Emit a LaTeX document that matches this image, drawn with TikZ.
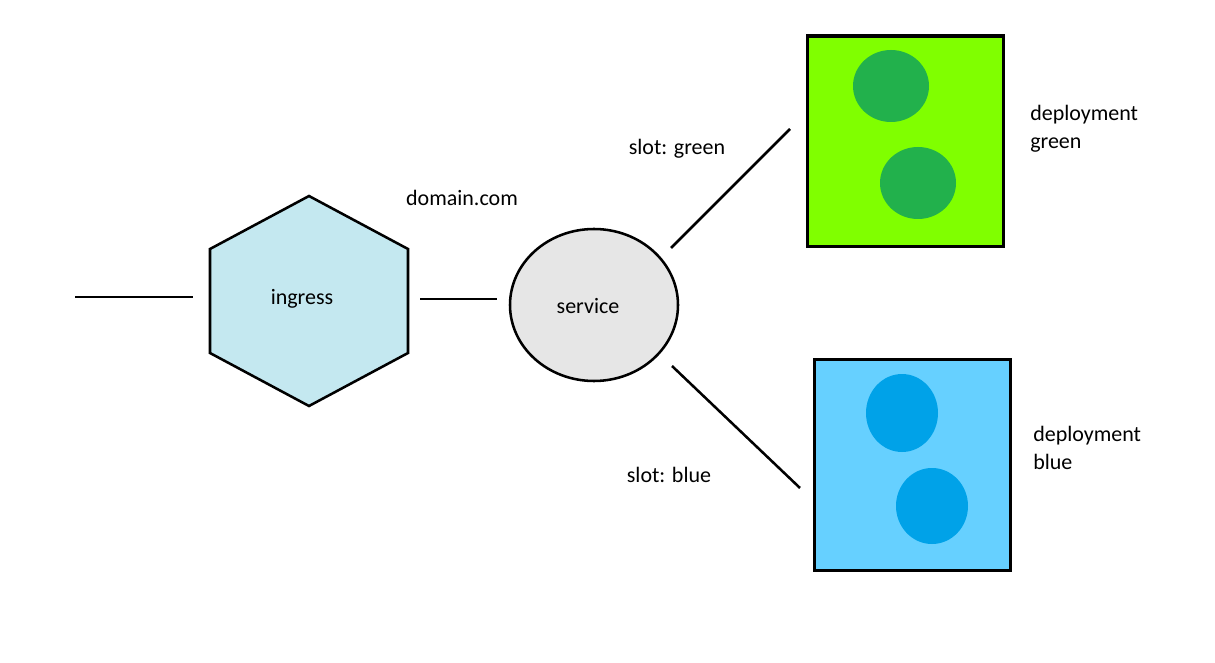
\documentclass[tikz,border=0pt]{standalone}
\usepackage{fontspec}
\setmainfont{Carlito}
\usetikzlibrary{shapes.geometric,calc}
\definecolor{hexfill}{HTML}{C4E8F0}
\definecolor{svcfill}{HTML}{E6E6E6}
\definecolor{gbox}{HTML}{80FF00}
\definecolor{gdot}{HTML}{22B14C}
\definecolor{bbox}{HTML}{66D0FF}
\definecolor{bdot}{HTML}{00A2E8}
\tikzset{
  conn/.style={line width=1.9pt},
  lbl/.style={font=\fontsize{16.5pt}{21pt}\selectfont, inner sep=0pt},
  depbox/.style={draw, line width=2.5pt, minimum width=147pt, minimum height=158pt, inner sep=0pt},
}
\begin{document}
\begin{tikzpicture}[x=0.75pt,y=-0.75pt]
\useasboundingbox (0,0) rectangle (1215,663);
% ingress hexagon
\filldraw[fill=hexfill, line width=1.9pt, line join=miter]
  (309,196) -- (408,249) -- (408,353) -- (309,406) -- (210,353) -- (210,249) -- cycle;
\node[minimum width=148.5pt, minimum height=156pt, inner sep=0pt] (ing) at (309,299) {};
\node[lbl] (ingt) at (302,299) {ingress};
% service
\node[ellipse, draw, fill=svcfill, line width=1.9pt, minimum width=126pt, minimum height=114pt, inner sep=0pt] (svc) at (594,305) {};
\node[lbl] (svct) at (588,306) {service};
% deployments
\node[depbox, fill=gbox] (dg) at (905.5,141.5) {};
\node[depbox, fill=bbox] (db) at (912.5,465) {};
\fill[gdot] (891,86) ellipse [x radius=38, y radius=36];
\fill[gdot] (918,183) ellipse [x radius=38, y radius=36];
\fill[bdot] (902,413) ellipse [x radius=36, y radius=39];
\fill[bdot] (932,506) ellipse [x radius=36, y radius=38];
% labels
\node[lbl] (dom) at (462,198) {domain.com};
\node[lbl] (slg) at (677,149) {slot: green};
\node[lbl] (slb) at (669,475) {slot: blue};
\node[lbl, align=left, anchor=west] (dgl) at (1030,129) {deployment\\green};
\node[lbl, align=left, anchor=west] (dbl) at (1033,448) {deployment\\blue};
% connectors
\coordinate (in) at (75,297);
\draw[conn, shorten >=12.75pt] (in) -- (in -| ing.west);
\draw[conn, shorten <=9pt, shorten >=9pt] (ing.east) -- (ing.east -| svc.west);
\coordinate (sg) at (671,248);
\coordinate (gg) at (790,129);
\coordinate (sb) at (672,366);
\coordinate (bb) at (800,488);
\draw[conn] (sg) -- (gg);
\draw[conn] (sb) -- (bb);
\end{tikzpicture}
\end{document}
